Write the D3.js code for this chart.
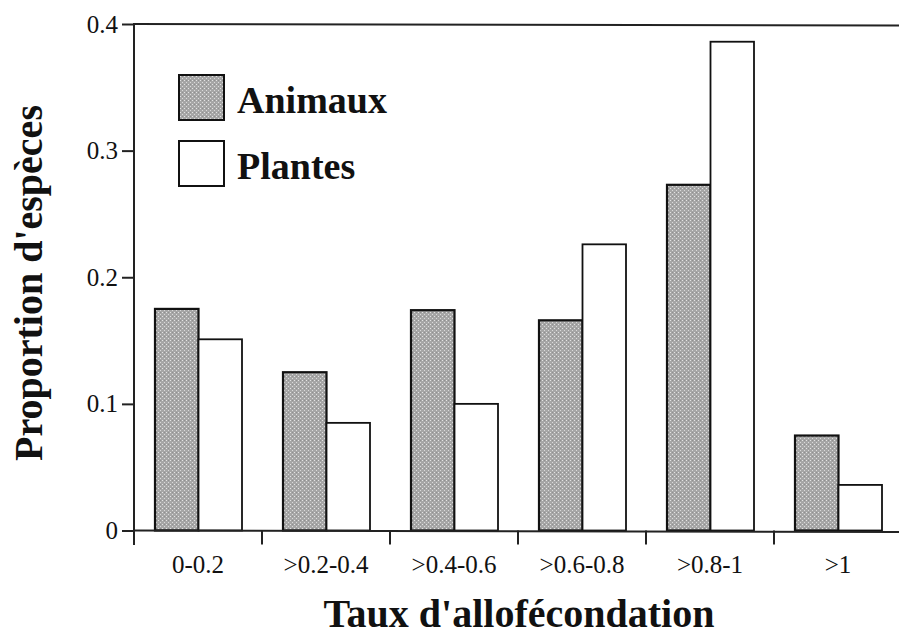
<!DOCTYPE html>
<html>
<head>
<meta charset="utf-8">
<script src="https://cdn.jsdelivr.net/npm/d3@7"></script>
<style>
  html, body { margin: 0; padding: 0; background: #fff; }
  svg { display: block; }
  text { font-family: "Liberation Serif", "Times New Roman", serif; fill: #111; }
</style>
</head>
<body>
<svg id="chart" width="899" height="636"></svg>
<script>
const categories = ["0-0.2", ">0.2-0.4", ">0.4-0.6", ">0.6-0.8", ">0.8-1", ">1"];
const seriesNames = ["Animaux", "Plantes"];
const animaux = [0.175, 0.125, 0.174, 0.166, 0.273, 0.075];
const plantes = [0.151, 0.085, 0.100, 0.226, 0.386, 0.036];
const yTicks = [0, 0.1, 0.2, 0.3, 0.4];
const xTitle = "Taux d'allofécondation";
const yTitle = "Proportion d'espèces";

const svg = d3.select("#chart");
const W = 899, H = 636;

// pattern for stippled grey
const defs = svg.append("defs");
const pat = defs.append("pattern").attr("id", "stipple").attr("patternUnits", "userSpaceOnUse")
  .attr("width", 4).attr("height", 4);
pat.append("rect").attr("width", 4).attr("height", 4).attr("fill", "#a6a6a6");
pat.append("rect").attr("x", 0).attr("y", 0).attr("width", 1).attr("height", 1).attr("fill", "#e4e4e4");
pat.append("rect").attr("x", 2).attr("y", 2).attr("width", 1).attr("height", 1).attr("fill", "#dadada");
pat.append("rect").attr("x", 2).attr("y", 0).attr("width", 1).attr("height", 1).attr("fill", "#909090");

const axisX = 134;
const x = d3.scaleBand().domain(categories).range([axisX, axisX + 6 * 128]).padding(0);
const xs = d3.scaleBand().domain(seriesNames).range([21, 108]).padding(0);
const y = d3.scaleLinear().domain([0, 0.4]).range([530.5, 24]);

const fills = { "Animaux": "url(#stipple)", "Plantes": "#fff" };
const data = categories.map((c, i) => ({ cat: c, vals: [
  { s: "Animaux", v: animaux[i] }, { s: "Plantes", v: plantes[i] } ] }));

// bars
const g = svg.append("g");
const groups = g.selectAll("g.grp").data(data).join("g")
  .attr("transform", d => `translate(${x(d.cat)},0)`);
groups.selectAll("rect").data(d => d.vals).join("rect")
  .attr("x", d => xs(d.s))
  .attr("y", d => y(d.v))
  .attr("width", xs.bandwidth())
  .attr("height", d => y(0) - y(d.v))
  .attr("fill", d => fills[d.s])
  .attr("stroke", "#111")
  .attr("stroke-width", d => d.s === "Animaux" ? 2.2 : 1.8);

// y axis
const yAxis = d3.axisLeft(y).tickValues(yTicks)
  .tickFormat(d => d === 0 ? "0" : d3.format(".1f")(d))
  .tickSize(12).tickPadding(4);
const ya = svg.append("g").attr("transform", `translate(${axisX},0)`).call(yAxis);
ya.attr("font-family", "Liberation Serif").attr("font-size", 25);
ya.select(".domain").remove();
ya.selectAll(".tick line").attr("stroke", "#222").attr("stroke-width", 2);
ya.selectAll(".tick text").attr("fill", "#222");
ya.append("line").attr("x1", 0).attr("x2", 0).attr("y1", y(0.4) - 1).attr("y2", 545)
  .attr("stroke", "#222").attr("stroke-width", 2);

// top frame line and x baseline
svg.append("line").attr("x1", axisX).attr("x2", W).attr("y1", y(0.4)).attr("y2", y(0.4) + 1.5)
  .attr("stroke", "#222").attr("stroke-width", 2);
svg.append("line").attr("x1", axisX).attr("x2", W).attr("y1", y(0)).attr("y2", y(0) + 1.5)
  .attr("stroke", "#222").attr("stroke-width", 2);

// x axis: labels and boundary ticks
const xAxis = d3.axisBottom(x).tickSize(0).tickPadding(25);
const xa = svg.append("g").attr("transform", `translate(0,${y(0)})`).call(xAxis);
xa.attr("font-family", "Liberation Serif").attr("font-size", 25);
xa.select(".domain").remove();
xa.selectAll(".tick text").attr("fill", "#222");
svg.append("g").selectAll("line").data(categories.slice(1)).join("line")
  .attr("x1", d => x(d)).attr("x2", d => x(d))
  .attr("y1", y(0)).attr("y2", y(0) + 14)
  .attr("stroke", "#222").attr("stroke-width", 2);

// legend
const legend = svg.append("g");
const legItems = [ { s: "Animaux", y0: 75 }, { s: "Plantes", y0: 141 } ];
legItems.forEach(it => {
  legend.append("rect").attr("x", 179).attr("y", it.y0).attr("width", 45).attr("height", 45)
    .attr("fill", fills[it.s]).attr("stroke", "#111").attr("stroke-width", 2);
  legend.append("text").attr("x", 237).attr("y", it.y0 + 38)
    .attr("font-size", 38).attr("font-weight", "bold").text(it.s);
});

// axis titles
svg.append("text").attr("x", 519).attr("y", 627).attr("text-anchor", "middle")
  .attr("font-size", 40).attr("font-weight", "bold").text(xTitle);
svg.append("text").attr("transform", "translate(42,283) rotate(-90)").attr("text-anchor", "middle")
  .attr("font-size", 40).attr("font-weight", "bold").text(yTitle);
</script>
</body>
</html>
